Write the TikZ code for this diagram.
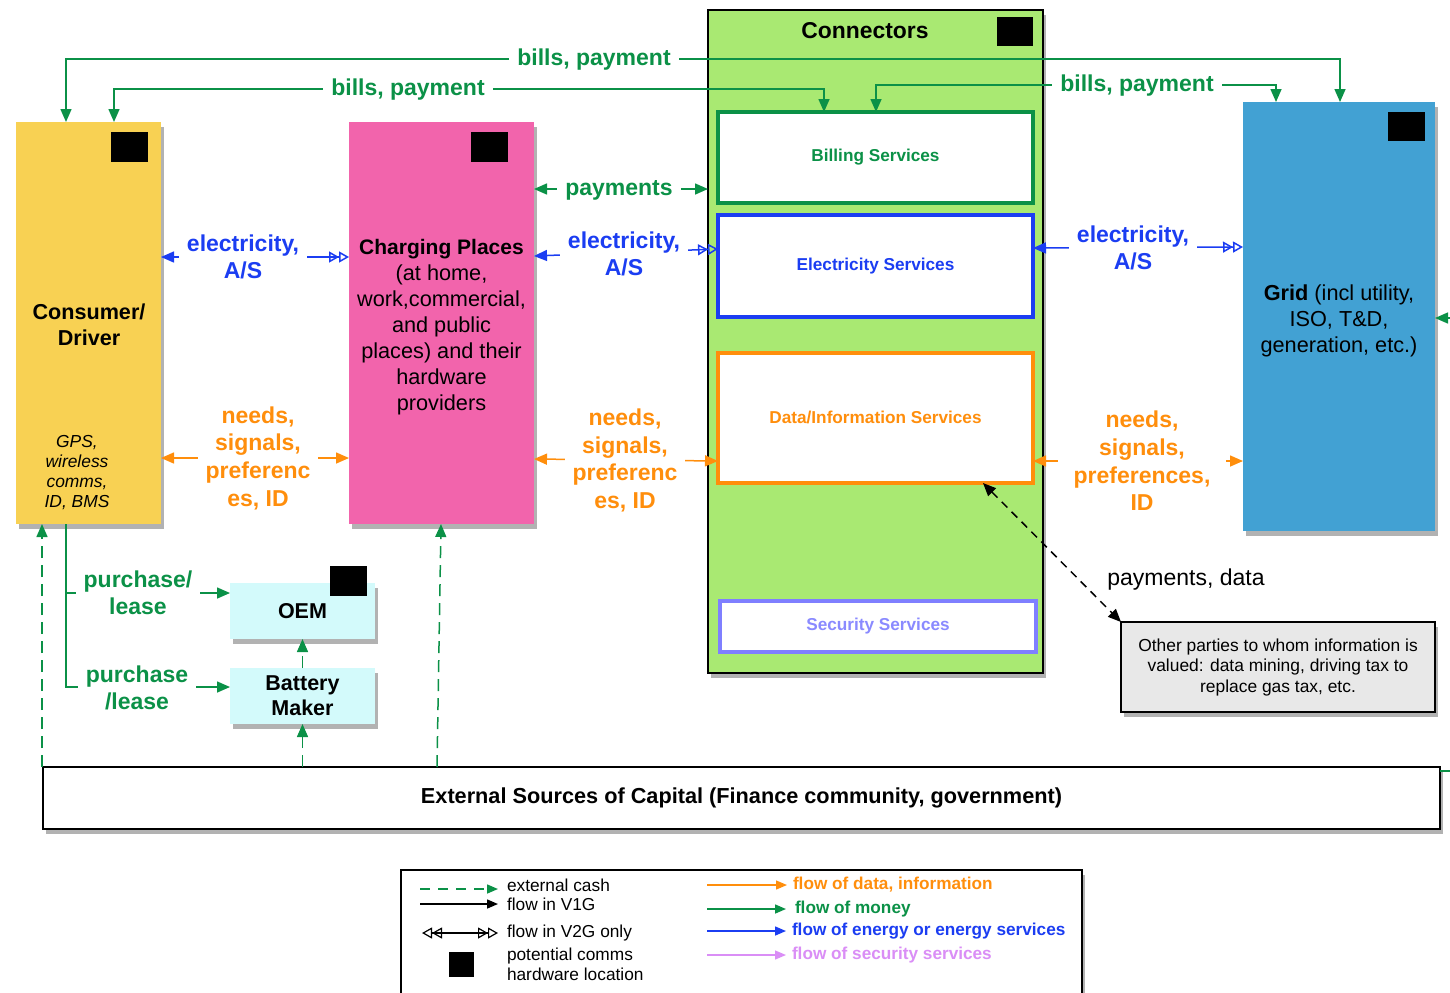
\documentclass[tikz,border=0pt]{standalone}
\usepackage{fontspec}
\setmainfont{Liberation Sans}
\usetikzlibrary{arrows.meta,shadows}
\definecolor{cgreen}{HTML}{0B9147}
\definecolor{cblue}{HTML}{1B3DF2}
\definecolor{corange}{HTML}{FF8E0C}
\definecolor{cyellow}{HTML}{F8D153}
\definecolor{cpink}{HTML}{F264AC}
\definecolor{clgreen}{HTML}{A9E972}
\definecolor{cgrid}{HTML}{42A1D3}
\definecolor{ccyan}{HTML}{D3FAFB}
\definecolor{cgray}{HTML}{E8E8E8}
\definecolor{csec}{HTML}{7F7FFF}
\definecolor{csectext}{HTML}{8A8AFF}
\definecolor{cviolet}{HTML}{DA8EF6}
\newcommand{\myfs}[2]{\fontsize{#1pt}{#2pt}\selectfont}
\tikzset{
  ftip/.tip={Triangle[length=6.5pt,width=5.5pt]},
  ltip/.tip={Triangle[length=5.5pt,width=4.5pt]},
  vtip/.tip={Triangle[open,length=5pt,width=5.5pt] Triangle[open,length=5pt,width=5.5pt]},
}
\begin{document}
\begin{tikzpicture}[x=0.5pt,y=-0.5pt,
  every node/.style={inner sep=0pt, outer sep=0pt},
  shadowed/.style={drop shadow={shadow xshift=1.5pt,shadow yshift=-2.5pt,opacity=0.3,fill=black}},
  bigbox/.style={rectangle, shadowed, align=center},
  svc/.style={rectangle, fill=white, line width=2pt, align=center, font=\myfs{8.6}{10}\bfseries},
  sq/.style={rectangle, fill=black, minimum width=18.5pt, minimum height=15pt},
  lbl/.style={fill=white, align=center, font=\myfs{11.5}{13.6}\bfseries, inner xsep=4pt, inner ysep=1pt},
  mline/.style={draw=cgreen, line width=0.75pt},
  eline/.style={draw=cblue, line width=0.75pt},
  oline/.style={draw=corange, line width=0.75pt},
  cash/.style={draw=cgreen, line width=0.75pt, dash pattern=on 6pt off 3.5pt},
  legtxt/.style={anchor=west, font=\myfs{8.65}{10}},
  legbold/.style={anchor=west, font=\myfs{8.6}{10}\bfseries},
]
\useasboundingbox (0,0) rectangle (1450,992);
\clip (0,0) rectangle (1450,992);

% ---------- main boxes ----------
\node[bigbox, fill=cyellow, minimum width=72.5pt, minimum height=201pt] (consumer) at (88.5,323) {};
\node[font=\myfs{10.8}{13}\bfseries, align=center] (context) at (89,325) {Consumer/\\Driver};
\node[font=\myfs{8.7}{10}\itshape, align=center] (gps) at (77,473) {GPS,\\wireless\\comms,\\ID, BMS};

\node[bigbox, fill=cpink, minimum width=92.5pt, minimum height=201pt] (charging) at (441.5,323) {};
\node[font=\myfs{10.85}{13}, align=center] (chtext) at (441.5,327.5) {{\myfs{10.5}{13}\bfseries Charging Places}\\(at home,\\work,commercial,\\and public\\places) and their\\hardware\\providers};

\node[bigbox, fill=clgreen, draw=black, line width=0.75pt, minimum width=167.5pt, minimum height=331.5pt] (connectors) at (875.5,341.5) {};
\node[font=\myfs{11.45}{13}\bfseries] (conntitle) at (865,31) {Connectors};

\node[svc, draw=cgreen, text=cgreen, minimum width=157.5pt, minimum height=45.5pt] (billing) at (875.5,157.5) {Billing Services};
\node[svc, draw=cblue, text=cblue, minimum width=157.5pt, minimum height=51pt] (elec) at (875.5,266) {Electricity Services};
\node[svc, draw=corange, text=corange, minimum width=157.5pt, minimum height=65pt] (data) at (875.5,418) {};
\node[font=\myfs{8.6}{10}\bfseries, text=corange] (datatext) at (875.5,417) {Data/Information Services};
\node[svc, draw=csec, text=csectext, minimum width=158pt, minimum height=25.5pt] (security) at (878,626.5) {Security Services};

\node[bigbox, fill=cgrid, minimum width=96pt, minimum height=214.5pt] (grid) at (1339,316.5) {};
\node[font=\myfs{10.85}{13}, align=center] (gridtext) at (1339,320.5) {\textbf{Grid} (incl utility,\\ISO, T\&D,\\generation, etc.)};

\node[bigbox, fill=ccyan, minimum width=72.5pt, minimum height=28pt, font=\myfs{10.75}{12.5}\bfseries] (oem) at (302.5,611) {OEM};
\node[bigbox, fill=ccyan, minimum width=72.5pt, minimum height=28pt, font=\myfs{10.75}{12.5}\bfseries] (battery) at (302.5,696) {Battery\\Maker};

\node[bigbox, fill=white, draw=black, line width=0.75pt, minimum width=698.5pt, minimum height=31pt, font=\myfs{10.85}{13}\bfseries] (external) at (741.5,798) {External Sources of Capital (Finance community, government)};

\node[bigbox, fill=cgray, draw=black, line width=0.75pt, minimum width=157pt, minimum height=45pt, font=\myfs{8.7}{10.25}] (other) at (1278,667) {Other parties to whom information is\\valued: data mining, driving tax to\\replace gas tax, etc.};

\node[rectangle, fill=white, draw=black, line width=0.75pt, shadowed, minimum width=340.5pt, minimum height=70pt, anchor=north west] (legend) at (401,870) {};

% ---------- comms hardware squares ----------
\node[sq] (sq1) at (129.5,147) {};
\node[sq] (sq2) at (489.5,147) {};
\node[sq, minimum width=18pt, minimum height=14.5pt] (sq3) at (1015,31.5) {};
\node[sq, minimum height=14.5pt] (sq4) at (1406.5,126.5) {};
\node[sq] (sq5) at (348.5,581) {};
\node[sq, minimum width=12.5pt, minimum height=12.5pt] (sq6) at (461.5,964.5) {};

% ---------- helper coordinates ----------
\coordinate (ya) at (0,59);   \coordinate (yb) at (0,89);   \coordinate (yc) at (0,85);
\coordinate (xa) at (66,0);   \coordinate (xb) at (114,0);  \coordinate (xc) at (824,0);
\coordinate (xd) at (876,0);  \coordinate (xe) at (1276,0); \coordinate (xf) at (1340,0);
\coordinate (yp) at (0,189);
\coordinate (y257) at (0,257); \coordinate (y256) at (0,256); \coordinate (y249) at (0,249);
\coordinate (y248) at (0,248); \coordinate (y247) at (0,247);
\coordinate (y458) at (0,458); \coordinate (y459) at (0,459); \coordinate (y461) at (0,461);
\coordinate (xdd) at (983,0);
\coordinate (y593) at (0,593); \coordinate (y687) at (0,687);
\coordinate (x42) at (42,0); \coordinate (x437) at (437,0); \coordinate (x441) at (441,0);
\coordinate (xr) at (1480,0); \coordinate (y771) at (0,771); \coordinate (y318) at (0,318);

% ---------- money flows ----------
\draw[mline,{ftip}-{ftip}] (xa |- consumer.north) -- (xa |- ya) -- (xf |- ya) -- (xf |- grid.north);
\node[lbl,text=cgreen] (bp1) at (594,60) {bills, payment};
\draw[mline,{ftip}-{ftip}] (xb |- consumer.north) -- (xb |- yb) -- (xc |- yb) -- (xc |- billing.north);
\node[lbl,text=cgreen] (bp2) at (408,90) {bills, payment};
\draw[mline,{ftip}-{ftip}] (xd |- billing.north) -- (xd |- yc) -- (xe |- yc) -- (xe |- grid.north);
\node[lbl,text=cgreen] (bp3) at (1137,86) {bills, payment};
\draw[mline,{ftip}-{ftip}] (charging.east |- yp) -- (connectors.west |- yp);
\node[lbl,text=cgreen] (pay) at (619,190) {payments};

% ---------- energy flows ----------
\draw[eline,{ftip}-{vtip}] (consumer.east |- y257) -- (charging.west |- y257);
\node[lbl,text=cblue,font=\myfs{11.5}{13.5}\bfseries] (el1) at (243,257) {electricity,\\A/S};
\draw[eline,{ftip}-{vtip}] (charging.east |- y256) -- (elec.west |- y249);
\node[lbl,text=cblue,font=\myfs{11.5}{13.5}\bfseries] (el2) at (624,253.5) {electricity,\\A/S};
\draw[eline,{ftip}-{vtip}] (elec.east |- y248) -- (grid.west |- y247);
\node[lbl,text=cblue,font=\myfs{11.5}{13.5}\bfseries] (el3) at (1133,248) {electricity,\\A/S};

% ---------- data flows ----------
\draw[oline,{ftip}-{ftip}] (consumer.east |- y458) -- (charging.west |- y458);
\node[lbl,text=corange,font=\myfs{11.5}{13.85}\bfseries] (nd1) at (258,458) {needs,\\signals,\\preferenc\\es, ID};
\draw[oline,{ftip}-{ftip}] (charging.east |- y459) -- (data.west |- y461);
\node[lbl,text=corange,font=\myfs{11.5}{13.85}\bfseries] (nd2) at (625,460.5) {needs,\\signals,\\preferenc\\es, ID};
\draw[oline,{ftip}-{ftip}] (data.east |- y461) -- (grid.west |- y461);
\node[lbl,text=corange,font=\myfs{11.5}{13.85}\bfseries,inner xsep=8pt] (nd3) at (1142,461) {needs,\\signals,\\preferences,\\ID};

% ---------- other parties ----------
\draw[black, line width=0.75pt, dash pattern=on 4pt off 3pt, {ftip}-{ftip}] (xdd |- data.south) -- (other.north west);
\node[font=\myfs{11.5}{13}] (pd) at (1186,580) {payments, data};

% ---------- purchase / lease ----------
\draw[mline,-{ftip}] (xa |- consumer.south) -- (xa |- y687) -- (battery.west |- y687);
\draw[mline,-{ftip}] (xa |- y593) -- (oem.west |- y593);
\node[lbl,text=cgreen] (pl1) at (138,593) {purchase/\\lease};
\node[lbl,text=cgreen] (pl2) at (137,688) {purchase\\/lease};

% ---------- external cash ----------
\draw[cash,-{ftip}] (x42 |- external.north) -- (x42 |- consumer.south);
\draw[cash,-{ftip}] (external.north -| battery.south) -- (battery.south);
\draw[cash,-{ftip}] (battery.north) -- (oem.south);
\draw[cash,-{ftip}] (x437 |- external.north) -- (x441 |- charging.south);
\draw[cash,-{ftip}] (external.east |- y771) -- (xr |- y771) -- (xr |- y318) -- (grid.east |- y318);

% ---------- legend ----------
\coordinate (l1a) at (420,889); \coordinate (l1b) at (498,889);
\coordinate (l2a) at (420,904); \coordinate (l2b) at (498,904);
\coordinate (l3a) at (422,933); \coordinate (l3b) at (498,933);
\coordinate (r1a) at (707,885); \coordinate (r1b) at (787,885);
\coordinate (r2a) at (707,909); \coordinate (r2b) at (786,909);
\coordinate (r3a) at (707,931); \coordinate (r3b) at (786,931);
\coordinate (r4a) at (707,955); \coordinate (r4b) at (786,955);
\draw[cash,dash pattern=on 5pt off 4pt,-{ltip}] (l1a) -- (l1b);
\draw[black,line width=0.75pt,-{ltip}] (l2a) -- (l2b);
\draw[black,line width=0.6pt,{vtip}-{vtip}] (l3a) -- (l3b);
\node[legtxt] (lt1) at (507,885) {external cash};
\node[legtxt] (lt2) at (507,904) {flow in V1G};
\node[legtxt] (lt3) at (507,933) {flow in V2G only};
\node[legtxt, align=left] (lt4) at (507,964) {potential comms\\hardware location};
\draw[corange,line width=0.6pt,-{ltip}] (r1a) -- (r1b);
\draw[cgreen,line width=0.75pt,-{ltip}] (r2a) -- (r2b);
\draw[cblue,line width=0.75pt,-{ltip}] (r3a) -- (r3b);
\draw[cviolet,line width=0.6pt,-{ltip}] (r4a) -- (r4b);
\node[legbold,text=corange] (rt1) at (793,885) {flow of data, information};
\node[legbold,text=cgreen] (rt2) at (795,909) {flow of money};
\node[legbold,text=cblue] (rt3) at (792,931) {flow of energy or energy services};
\node[legbold,text=cviolet] (rt4) at (792,955) {flow of security services};
\end{tikzpicture}
\end{document}
